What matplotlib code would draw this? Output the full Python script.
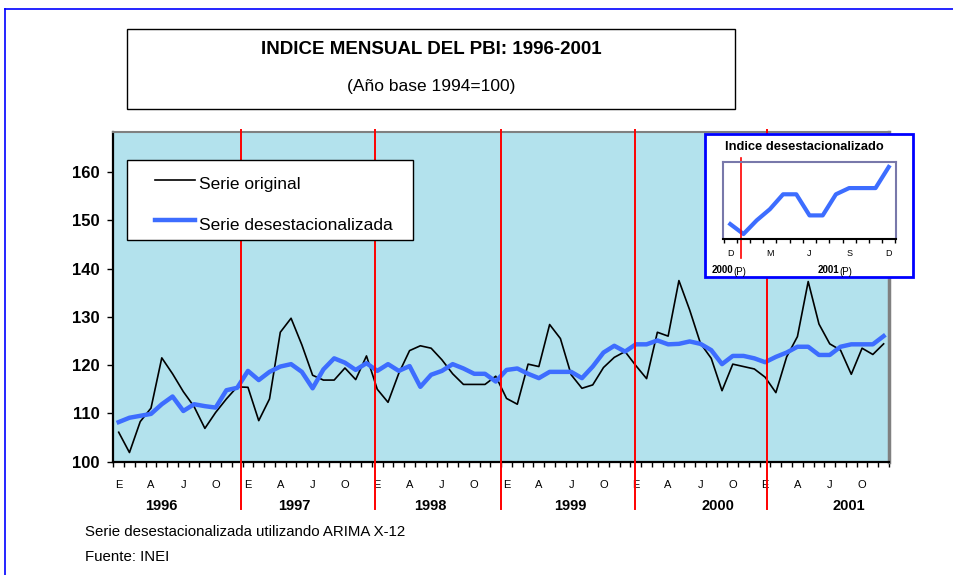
import matplotlib
matplotlib.use('Agg')
import matplotlib.pyplot as plt
import matplotlib.transforms as mtransforms
from matplotlib.patches import Rectangle
from matplotlib.lines import Line2D
import numpy as np

plt.rcParams['font.family'] = ['Liberation Sans', 'DejaVu Sans']

# Datos
meses = ['E', 'F', 'M', 'A', 'M', 'J', 'J', 'A', 'S', 'O', 'N', 'D']
anios = ['1996', '1997', '1998', '1999', '2000', '2001']

serie_original = [
    106.1, 101.9, 108.3, 111.1, 121.5, 118.2, 114.5, 111.4, 106.9, 110.2, 113.0, 115.5,
    115.4, 108.5, 113.0, 126.8, 129.7, 124.2, 117.9, 116.9, 116.9, 119.4, 117.0, 121.9,
    115.0, 112.3, 118.3, 123.0, 124.0, 123.5, 121.1, 118.2, 116.0, 116.0, 116.0, 117.7,
    113.1, 111.9, 120.2, 119.7, 128.4, 125.5, 118.0, 115.2, 115.9, 119.5, 121.6, 122.8,
    119.9, 117.2, 126.8, 126.0, 137.5, 131.4, 124.5, 121.4, 114.7, 120.2, 119.7, 119.2,
    117.5, 114.3, 121.7, 125.9, 137.3, 128.5, 124.4, 123.1, 118.1, 123.5, 122.2, 124.4,
]
serie_desest = [
    108.2, 109.1, 109.5, 109.9, 111.9, 113.5, 110.5, 111.9, 111.5, 111.2, 114.8, 115.3,
    118.8, 116.9, 118.6, 119.7, 120.2, 118.6, 115.2, 119.1, 121.4, 120.5, 119.0, 120.4,
    118.8, 120.2, 118.8, 119.8, 115.5, 118.0, 118.8, 120.2, 119.3, 118.2, 118.2, 116.6,
    119.0, 119.3, 118.2, 117.3, 118.6, 118.6, 118.6, 117.3, 119.7, 122.6, 124.0, 122.8,
    124.3, 124.3, 125.1, 124.3, 124.4, 124.9, 124.4, 123.1, 120.2, 121.9, 121.9, 121.4,
    120.6, 121.7, 122.6, 123.8, 123.8, 122.1, 122.1, 123.8, 124.3, 124.3, 124.3, 126.0,
]
series_nombres = ['Serie original', 'Serie desestacionalizada']

# lineas rojas de cambio de anio (puestas a mano en el original, en meses)
separadores = [11.36, 23.8, 35.5, 47.94, 60.17]
# posicion de las etiquetas de anio (en meses)
pos_anios = [3.97, 16.3, 28.9, 41.9, 55.6, 67.8]

# recuadro: ultimos 13 meses (dic 2000 - dic 2001)
recuadro_valores = serie_desest[-13:]
recuadro_meses = ['D', 'M', 'J', 'S', 'D']
recuadro_sep = 0.78

AZUL = '#3d6dff'
W, H = 954, 575


def fx(x):
    return x / W


def fy(y):
    return 1 - y / H


fig = plt.figure(figsize=(W / 100, H / 100), dpi=100)
fig.patch.set_facecolor('white')

# marco azul del documento
fig.add_artist(Line2D([fx(5), fx(5)], [fy(9), 0], color='#0000ff', lw=1.2))
fig.add_artist(Line2D([fx(5), 1], [fy(9), fy(9)], color='#0000ff', lw=1.2))

# caja del titulo
fig.add_artist(Rectangle((fx(127), fy(109)), fx(735) - fx(127), fy(29) - fy(109),
                         transform=fig.transFigure, facecolor='white',
                         edgecolor='black', lw=1.0))
fig.text(fx(431), fy(50), 'INDICE MENSUAL DEL PBI: 1996-2001', ha='center',
         va='center', fontsize=13.5, fontweight='bold')
fig.text(fx(431), fy(87), '(Año base 1994=100)', ha='center', va='center',
         fontsize=12.5)

# grafico principal
left, right, top, bottom = 113.3, 889, 132.3, 461.7
ax = fig.add_axes([fx(left), fy(bottom), fx(right) - fx(left), fy(top) - fy(bottom)])
ax.set_zorder(1)
ax.set_facecolor('#b3e2ed')

x = np.arange(len(serie_original))
ax.plot(x, serie_original, color='black', lw=1.2, zorder=3)
ax.plot(x, serie_desest, color=AZUL, lw=3.2, zorder=4)

ax.set_xlim(-0.5, 71.5)
ax.set_ylim(100, 168.2)

ax.set_yticks(range(100, 161, 10))
ax.set_yticklabels([str(v) for v in range(100, 161, 10)], fontsize=12,
                   fontweight='bold')
ax.tick_params(axis='y', direction='out', length=4, width=1, pad=6)

pos_meses = [12 * a + m for a in range(len(anios)) for m in (0, 3, 6, 9)]
ax.set_xticks(pos_meses)
ax.set_xticklabels([meses[p % 12] for p in pos_meses], fontsize=8)
ax.set_xticks(np.arange(-0.5, 72, 1), minor=True)
ax.tick_params(axis='x', which='major', length=0, pad=13)
ax.tick_params(axis='x', which='minor', direction='out', length=3.5, width=1)

for side in ('left', 'bottom'):
    ax.spines[side].set_color('black')
    ax.spines[side].set_linewidth(1.6)
ax.spines['top'].set_color('#808080')
ax.spines['top'].set_linewidth(1.5)
ax.spines['right'].set_color('#808080')
ax.spines['right'].set_linewidth(2.5)

trans = mtransforms.blended_transform_factory(ax.transData, ax.transAxes)
y_lo = -(509 - bottom) / (bottom - top)
y_hi = 1 + (top - 130) / (bottom - top)
for s in separadores:
    ax.plot([s, s], [y_lo, y_hi], transform=trans, color='red', lw=1.4,
            clip_on=False, zorder=4.5)

y_anio = -(505.7 - bottom) / (bottom - top)
for p, a in zip(pos_anios, anios):
    ax.text(p, y_anio, a, transform=trans, ha='center', va='center',
            fontsize=10.5, fontweight='bold')

# leyenda (caja blanca con borde negro)
ft = fig.transFigure
ax.add_patch(Rectangle((fx(127), fy(240)), fx(413) - fx(127), fy(160) - fy(240),
                       transform=ft, facecolor='white', edgecolor='black',
                       lw=1.0, zorder=6, clip_on=False))
for nombre, color, lw, yl in zip(series_nombres, ['black', AZUL], [1.2, 3.2],
                                 [180, 220]):
    ax.add_line(Line2D([fx(155), fx(195)], [fy(yl), fy(yl)], color=color, lw=lw,
                       transform=ft, zorder=7, clip_on=False))
    ax.text(fx(199), fy(yl + 5), nombre, transform=ft, ha='left', va='center',
            fontsize=12.5, zorder=7)

# recuadro de la serie desestacionalizada
fig.add_artist(Rectangle((fx(705), fy(277)), fx(913) - fx(705), fy(134) - fy(277),
                         transform=fig.transFigure, facecolor='white',
                         edgecolor='#0000ff', lw=2.0, zorder=2))
fig.text(fx(804), fy(147), 'Indice desestacionalizado', ha='center', va='center',
         fontsize=9.3, fontweight='bold', zorder=3)

il, ir, it, ib = 723, 896, 162, 239
axi = fig.add_axes([fx(il), fy(ib), fx(ir) - fx(il), fy(it) - fy(ib)])
axi.set_zorder(3)
axi.patch.set_alpha(0)
xi = np.arange(len(recuadro_valores))
axi.plot(xi, recuadro_valores, color=AZUL, lw=3.0)
axi.set_xlim(-0.55, 12.55)
axi.set_ylim(120.2, 126.4)
axi.set_yticks([])
axi.set_xticks([0, 3, 6, 9, 12])
axi.set_xticklabels(recuadro_meses, fontsize=6.5)
axi.set_xticks(np.arange(-0.5, 13, 1), minor=True)
axi.tick_params(axis='x', which='major', length=0, pad=7)
axi.tick_params(axis='x', which='minor', direction='out', length=3, width=1)
for side in ('left', 'top', 'right'):
    axi.spines[side].set_color('#7878aa')
    axi.spines[side].set_linewidth(1.5)
axi.spines['bottom'].set_color('black')
axi.spines['bottom'].set_linewidth(1.5)

trans_i = mtransforms.blended_transform_factory(axi.transData, axi.transAxes)
axi.plot([recuadro_sep, recuadro_sep],
         [-(258 - ib) / (ib - it), 1 + (it - 158) / (ib - it)],
         transform=trans_i, color='red', lw=1.2, clip_on=False)

fig.text(fx(712), fy(270), '2000', ha='left', va='center', fontsize=7,
         fontweight='bold', zorder=4)
fig.text(fx(733.5), fy(272.5), '(P)', ha='left', va='center', fontsize=7, zorder=4)
fig.text(fx(817.5), fy(270), '2001', ha='left', va='center', fontsize=7,
         fontweight='bold', zorder=4)
fig.text(fx(839.5), fy(272.5), '(P)', ha='left', va='center', fontsize=7, zorder=4)

# notas al pie
fig.text(fx(85), fy(532), 'Serie desestacionalizada utilizando ARIMA X-12',
         ha='left', va='center', fontsize=10.8)
fig.text(fx(85), fy(557), 'Fuente: INEI', ha='left', va='center', fontsize=10.8)

fig.savefig('out.png', dpi=100)
